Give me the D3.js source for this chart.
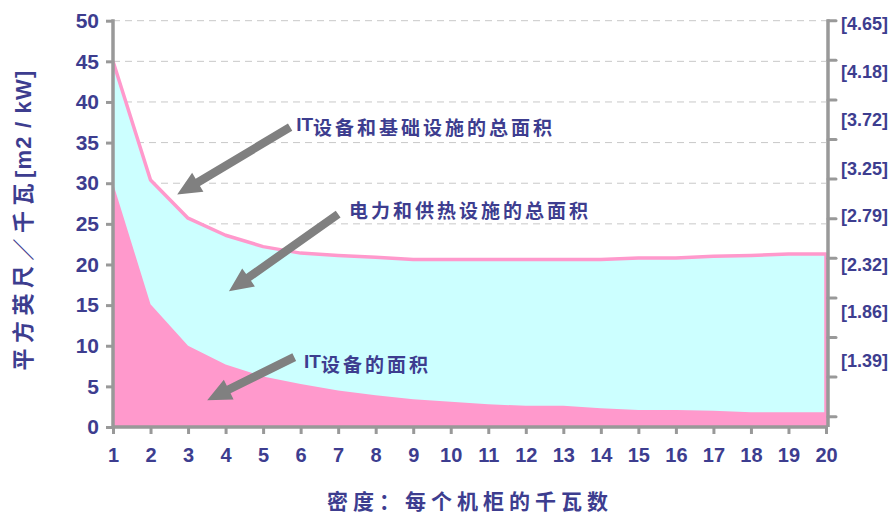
<!DOCTYPE html>
<html><head><meta charset="utf-8">
<script src="https://cdn.jsdelivr.net/npm/d3@7"></script>
<style>
body{margin:0;background:#fff}
svg{display:block}
text{font-family:"Liberation Sans",Arial,"Noto Sans CJK SC",sans-serif;font-weight:bold;fill:#3d3d8f}
.cjk{font-family:"Noto Sans CJK SC","Liberation Sans",sans-serif}
</style>
</head><body>
<svg id="chart" width="890" height="514"></svg>
<script>
// ---- data ----
const density = [1,2,3,4,5,6,7,8,9,10,11,12,13,14,15,16,17,18,19,20];
const itArea = [30,15.1,10,7.7,6.2,5.3,4.5,3.9,3.4,3.1,2.8,2.6,2.6,2.3,2.1,2.1,2.0,1.8,1.8,1.8];
const totalArea = [45,30.4,25.7,23.6,22.2,21.4,21.1,20.9,20.6,20.6,20.6,20.6,20.6,20.6,20.8,20.8,21.0,21.1,21.3,21.3];
const leftTicks = [0,5,10,15,20,25,30,35,40,45,50];
const gridTicks = [25,30,35,40,45,50];
const rightLabels = [4.65,4.18,3.72,3.25,2.79,2.32,1.86,1.39];
const rightTickSteps = [0,1,2,3,4,5,6,7,8,9,10];
const xTitle = "密度：每个机柜的千瓦数";
const yTitleCJK = "平方英尺／千瓦";
const yTitleLatin = "[m2 / kW]";
// annotations in data units
const annotations = [
  {pre:"IT", text:"设备和基础设施的总面积", tx:5.88, ty:35.9, tail:[5.72,36.9], tip:[2.71,28.6]},
  {pre:"",   text:"电力和供热设施的总面积", tx:7.29, ty:25.7, tail:[7.0,26.2], tip:[4.09,16.7]},
  {pre:"IT", text:"设备的面积",            tx:6.09, ty:6.8,  tail:[5.83,8.6], tip:[3.51,3.3]}
];

// ---- layout ----
const pL = 113, pR = 826, pT = 20.7, pB = 427;
const svg = d3.select("#chart");

const x = d3.scaleLinear().domain([1,20]).range([pL,pR]);
const y = d3.scaleLinear().domain([0,50]).range([pB,pT]);
const yR = d3.scaleLinear().domain([1.39,4.65]).range([360.5,23.5]);
const yRT = d3.scaleLinear().domain([0,10]).range([pB-10.3, pT]);

const axisColor = "#999999";

// grid
svg.append("g").selectAll("line").data(gridTicks).join("line")
  .attr("x1", pL).attr("x2", pR)
  .attr("y1", d=>y(d)).attr("y2", d=>y(d))
  .attr("stroke","#c8c8c8").attr("stroke-width",1).attr("stroke-dasharray","7,5");

const rows = density.map((d,i)=>({d, it:itArea[i], tot:totalArea[i]}));

// total area (cyan)
svg.append("path").datum(rows)
  .attr("fill","#ccffff")
  .attr("d", d3.area().x(r=>x(r.d)).y0(r=>y(0)).y1(r=>y(r.tot)));
// IT area (pink)
svg.append("path").datum(rows)
  .attr("fill","#ff99cc")
  .attr("d", d3.area().x(r=>x(r.d)).y0(r=>y(0)).y1(r=>y(r.it)));
// total line + right edge
const lineRows = rows.concat([{d:20, tot:0}]);
svg.append("path").datum(lineRows)
  .attr("fill","none").attr("stroke","#ff99cc").attr("stroke-width",3.5)
  .attr("stroke-linejoin","round")
  .attr("d", d3.line().x(r=>x(r.d)).y(r=>y(r.tot)));

// left axis
const gL = svg.append("g").attr("transform",`translate(${pL},0)`)
  .call(d3.axisLeft(y).tickValues(leftTicks).tickSize(7).tickPadding(7).tickFormat(d3.format("d")));
gL.select(".domain").remove();
gL.selectAll(".tick line").attr("stroke",axisColor).attr("stroke-width",3);
gL.selectAll(".tick text").attr("font-size",21).attr("fill","#3d3d8f")
  .attr("font-family","Liberation Sans, Arial, sans-serif");
gL.append("line").attr("x1",0).attr("x2",0).attr("y1",pT-1.5).attr("y2",pB+1.5)
  .attr("stroke",axisColor).attr("stroke-width",3.5);

// bottom axis
const gB = svg.append("g").attr("transform",`translate(0,${pB})`)
  .call(d3.axisBottom(x).tickValues(density).tickSize(7).tickPadding(14).tickFormat(d3.format("d")));
gB.select(".domain").remove();
gB.selectAll(".tick line").attr("stroke",axisColor).attr("stroke-width",3);
gB.selectAll(".tick text").attr("font-size",20).attr("fill","#3d3d8f")
  .attr("font-family","Liberation Sans, Arial, sans-serif");
gB.append("line").attr("x1",pL).attr("x2",pR+2).attr("y1",0).attr("y2",0)
  .attr("stroke",axisColor).attr("stroke-width",3.5);

// right axis
const rx = pR + 2;
svg.append("line").attr("x1",rx).attr("x2",rx).attr("y1",pT-1.5).attr("y2",pB)
  .attr("stroke",axisColor).attr("stroke-width",3.5);
svg.append("g").selectAll("line").data(rightTickSteps).join("line")
  .attr("x1",rx).attr("x2",rx+8).attr("y1",d=>yRT(d)).attr("y2",d=>yRT(d))
  .attr("stroke",axisColor).attr("stroke-width",3).attr("stroke-linecap","round");
svg.append("g").selectAll("text").data(rightLabels).join("text")
  .attr("x", rx+13).attr("y", d=>yR(d)).attr("dy","0.35em")
  .attr("font-size",18).text(d=>`[${d.toFixed(2)}]`);

// annotations
const arrowG = svg.append("g");
annotations.forEach(a=>{
  const [x0,y0] = [x(a.tail[0]), y(a.tail[1])];
  const [x1,y1] = [x(a.tip[0]), y(a.tip[1])];
  const dx = x1-x0, dy = y1-y0, L = Math.hypot(dx,dy);
  const ux = dx/L, uy = dy/L, nx = -uy, ny = ux;
  const sw = 4.2, hw = 11, hl = 24;
  const bx = x1-ux*hl, by = y1-uy*hl;
  const pts = [
    [x0+nx*sw, y0+ny*sw],[bx+nx*sw, by+ny*sw],[bx+nx*hw, by+ny*hw],[x1,y1],
    [bx-nx*hw, by-ny*hw],[bx-nx*sw, by-ny*sw],[x0-nx*sw, y0-ny*sw]
  ];
  arrowG.append("polygon").attr("points", pts.map(p=>p.join(",")).join(" ")).attr("fill","#808080");
  const t = svg.append("text").attr("x", x(a.tx)).attr("y", y(a.ty));
  if (a.pre) t.append("tspan").attr("font-size",19).attr("dy",-4).text(a.pre);
  t.append("tspan").attr("class","cjk").attr("font-size",19).attr("letter-spacing",3)
    .attr("dy", a.pre ? 4 : 0).text(a.text);
});

// axis titles
svg.append("text").attr("class","cjk").attr("x", 470).attr("y", 509)
  .attr("text-anchor","middle").attr("font-size",21).attr("letter-spacing",5).text(xTitle);

const yt = svg.append("text").attr("transform","translate(31,220) rotate(-90)")
  .attr("text-anchor","middle");
yt.append("tspan").attr("class","cjk").attr("font-size",22).attr("letter-spacing",5.5).text(yTitleCJK);
yt.append("tspan").attr("font-size",22).attr("letter-spacing",1.2).text(yTitleLatin);
</script>
</body></html>
